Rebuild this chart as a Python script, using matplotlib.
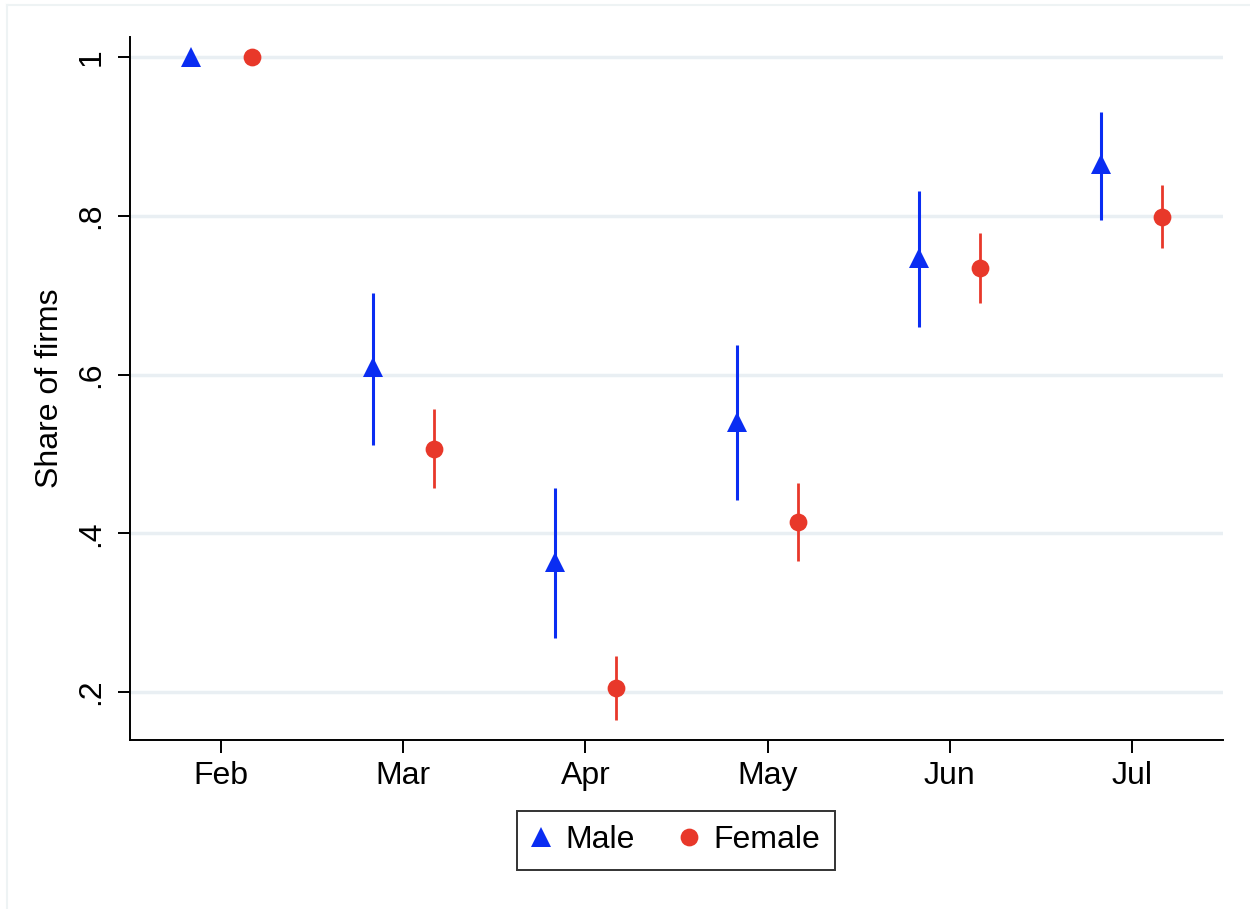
import matplotlib
matplotlib.use("Agg")
import matplotlib.pyplot as plt
from matplotlib.lines import Line2D
import numpy as np

plt.rcParams['font.family'] = ['Liberation Sans', 'DejaVu Sans']

months = ["Feb", "Mar", "Apr", "May", "Jun", "Jul"]
male = [1.0, 0.610, 0.364, 0.540, 0.747, 0.865]
male_lo = [1.0, 0.511, 0.268, 0.442, 0.660, 0.795]
male_hi = [1.0, 0.703, 0.457, 0.637, 0.831, 0.931]
female = [1.0, 0.506, 0.205, 0.414, 0.734, 0.798]
female_lo = [1.0, 0.457, 0.165, 0.365, 0.690, 0.759]
female_hi = [1.0, 0.557, 0.245, 0.463, 0.778, 0.839]
yticks = [0.2, 0.4, 0.6, 0.8, 1.0]
ytick_labels = [".2", ".4", ".6", ".8", "1"]

blue = '#0a2df2'
red = '#e8382a'
FS = 23

fig = plt.figure(figsize=(12.5, 9.09), dpi=100)
ax = fig.add_axes([130/1250, 1 - 740/909, (1223-130)/1250, (740-37)/909])

x = np.arange(len(months))
off = 0.167

for i in range(len(months)):
    if male_hi[i] > male_lo[i]:
        ax.plot([x[i]-off, x[i]-off], [male_lo[i], male_hi[i]], color=blue, lw=2.2,
                solid_capstyle='butt', zorder=3)
    if female_hi[i] > female_lo[i]:
        ax.plot([x[i]+off, x[i]+off], [female_lo[i], female_hi[i]], color=red, lw=2.0,
                solid_capstyle='butt', zorder=3)

ax.plot(x - off, male, linestyle='none', marker='^', markersize=14.5, color=blue,
        markeredgewidth=0, zorder=4)
ax.plot(x + off, female, linestyle='none', marker='o', markersize=12.8, color=red,
        markeredgewidth=0, zorder=4)

ax.set_xlim(-0.5, 5.5)
ax.set_ylim(0.2 - 48/793.75, 1 + 20/793.75)
ax.set_xticks(x)
ax.set_xticklabels(months)
ax.set_yticks(yticks)
ax.set_yticklabels(ytick_labels, rotation=90, va='center')

for yv in yticks:
    ax.axhline(yv, color='#e9eff3', lw=2.5, zorder=1)

ax.spines['top'].set_visible(False)
ax.spines['right'].set_visible(False)
for s in ['left', 'bottom']:
    ax.spines[s].set_linewidth(1.4)
ax.tick_params(axis='both', length=9, width=1.4, labelsize=FS, pad=8)
ax.tick_params(axis='x', pad=6)
ax.set_ylabel("Share of firms", fontsize=FS, labelpad=8)

handles = [Line2D([], [], linestyle='none', marker='^', markersize=14.5, color=blue, markeredgewidth=0),
           Line2D([], [], linestyle='none', marker='o', markersize=12.8, color=red, markeredgewidth=0)]
leg = fig.legend(handles, ["Male", "Female"], loc='center', ncol=2,
                 bbox_to_anchor=(676/1250, 1 - 840.5/909), fontsize=FS,
                 frameon=True, fancybox=False, edgecolor='black',
                 handletextpad=0.47, columnspacing=1.4, borderpad=0.45, handlelength=0.6)
leg.get_frame().set_linewidth(1.4)

# faint outer graph-region border
fig.add_artist(Line2D([7/1250, 7/1250], [0, 1 - 5/909], transform=fig.transFigure,
                      color='#eef3f4', lw=1.5))
fig.add_artist(Line2D([7/1250, 1], [1 - 5/909, 1 - 5/909], transform=fig.transFigure,
                      color='#eef3f4', lw=1.5))

fig.savefig("out.png", dpi=100)
